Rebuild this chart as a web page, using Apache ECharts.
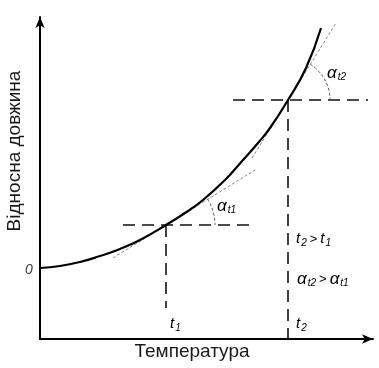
<!DOCTYPE html>
<html>
<head>
<meta charset="utf-8">
<script src="https://cdn.jsdelivr.net/npm/echarts@6/dist/echarts.min.js"></script>
<style>
  html, body { margin: 0; padding: 0; background: #fff; }
  #chart { width: 379px; height: 368px; }
</style>
</head>
<body>
<div id="chart"></div>
<script>
// Relative length of a body against temperature (arbitrary units)
const temperature = [0, 20, 40, 60, 80, 100, 126, 145, 163, 185, 203, 218, 230, 248, 266, 281];
const relLength   = [71, 73, 77, 83, 90, 99, 114, 126, 139, 159, 179, 196, 211, 239, 271, 311];

// Two chosen temperatures t1 < t2 and the length at each of them
const markT = [126, 248];
const markL = [114, 239];

// Tangent segments to the curve at t1 and at t2
const tangent1 = [[73, 81], [215, 169]];
const tangent2 = [[212, 181], [296, 316]];

// Slope angle of each tangent, degrees
const tangentAngle = [32, 58];

// Horizontal guide ends and vertical guide bottoms
const guideFrom = [83, 193];
const guideTo   = [215, 328];
const guideLow  = [31, 0];

const AX_MAX_T = 333;
const AX_MAX_L = 322;

const chart = echarts.init(document.getElementById('chart'), null, { renderer: 'canvas' });

const dashed = { color: '#111', width: 1.6, type: [12, 7] };
const dotted = { color: '#8a8a8a', width: 1, type: [3, 2] };

const guideSeries = [];
for (let i = 0; i < markT.length; i++) {
  guideSeries.push({
    type: 'line', silent: true, showSymbol: false, lineStyle: dashed, z: 2,
    data: [[guideFrom[i], markL[i]], [guideTo[i], markL[i]]]
  });
  guideSeries.push({
    type: 'line', silent: true, showSymbol: false, lineStyle: dashed, z: 2,
    data: [[markT[i], markL[i]], [markT[i], guideLow[i]]]
  });
}

const arcRadius = [49, 42];

const font = '"Liberation Sans", Arial, sans-serif';
const labelColor = '#3a3a3a';
const subRich = {
  a: { fontFamily: font, fontSize: 17, fontStyle: 'italic', color: labelColor },
  t: { fontFamily: font, fontSize: 15, fontStyle: 'italic', color: labelColor },
  s: { fontFamily: font, fontSize: 10, fontStyle: 'italic', color: labelColor, padding: [9, 0, 0, 1] },
  g: { fontFamily: font, fontSize: 13, color: labelColor, padding: [0, 3, 0, 3] }
};

function richText(x, y, text) {
  return {
    type: 'text', x: x, y: y, silent: true,
    style: { text: text, rich: subRich, align: 'left', verticalAlign: 'middle' }
  };
}

chart.setOption({
  animation: false,
  grid: { left: 40, right: 6, top: 17, bottom: 29 },
  xAxis: {
    type: 'value', min: 0, max: AX_MAX_T,
    axisLine: { show: true, symbol: ['none', 'arrow'], symbolSize: [7, 11],
      lineStyle: { color: '#000', width: 2 } },
    axisTick: { show: false }, axisLabel: { show: false }, splitLine: { show: false }
  },
  yAxis: {
    type: 'value', min: 0, max: AX_MAX_L,
    axisLine: { show: true, symbol: ['none', 'arrow'], symbolSize: [7, 11],
      lineStyle: { color: '#000', width: 2 } },
    axisTick: { show: false }, axisLabel: { show: false }, splitLine: { show: false }
  },
  series: [
    {
      type: 'line', silent: true, showSymbol: false, smooth: 0.5, z: 5,
      lineStyle: { color: '#000', width: 2.2 },
      data: temperature.map((t, i) => [t, relLength[i]])
    },
    { type: 'line', silent: true, showSymbol: false, lineStyle: dotted, z: 3, data: tangent1 },
    { type: 'line', silent: true, showSymbol: false, lineStyle: dotted, z: 3, data: tangent2 },
    ...guideSeries,
    {
      type: 'custom', silent: true, z: 4,
      data: markT.map((t, i) => [t, markL[i], tangentAngle[i], arcRadius[i]]),
      renderItem: function (params, api) {
        const c = api.coord([api.value(0), api.value(1)]);
        const ang = api.value(2) * Math.PI / 180;
        return {
          type: 'arc',
          shape: { cx: c[0], cy: c[1], r: api.value(3), startAngle: -ang, endAngle: 0, clockwise: true },
          style: { stroke: '#555', lineWidth: 1, lineDash: [3, 2], fill: null }
        };
      }
    }
  ],
  graphic: [
    {
      type: 'text', x: 15, y: 151, rotation: Math.PI / 2, silent: true,
      style: { text: 'Відносна довжина', font: '19px ' + font, fill: '#1a1a1a',
        align: 'center', verticalAlign: 'middle' }
    },
    {
      type: 'text', x: 192, y: 352, silent: true,
      style: { text: 'Температура', font: '19px ' + font, fill: '#1a1a1a',
        align: 'center', verticalAlign: 'middle' }
    },
    {
      type: 'text', x: 29, y: 270, silent: true,
      style: { text: '0', font: 'italic 14px ' + font, fill: labelColor,
        align: 'center', verticalAlign: 'middle' }
    },
    richText(170, 324, '{t|t}{s|1}'),
    richText(296, 324, '{t|t}{s|2}'),
    richText(296, 239, '{t|t}{s|2}{g|>}{t|t}{s|1}'),
    richText(297, 279, '{a|α}{s|t2}{g|>}{a|α}{s|t1}'),
    richText(217, 206, '{a|α}{s|t1}'),
    richText(327, 73, '{a|α}{s|t2}')
  ]
});
</script>
</body>
</html>
